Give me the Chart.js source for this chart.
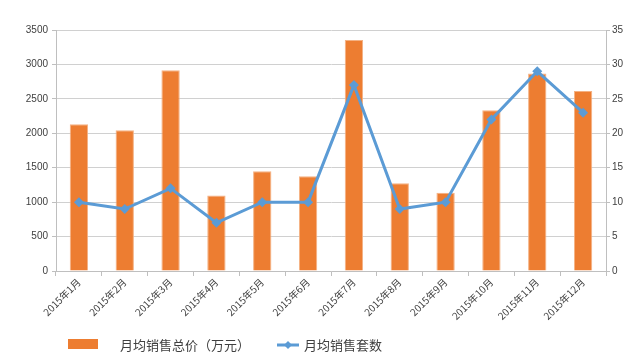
<!DOCTYPE html>
<html><head><meta charset="utf-8">
<script src="https://cdn.jsdelivr.net/npm/chart.js@4/dist/chart.umd.min.js"></script>
<style>html,body{margin:0;padding:0;background:#fff}#w{width:630px;height:357px;position:relative}</style>
</head><body><div id="w"><canvas id="c"></canvas></div>
<script>
const categories = ["2015年1月","2015年2月","2015年3月","2015年4月","2015年5月","2015年6月","2015年7月","2015年8月","2015年9月","2015年10月","2015年11月","2015年12月"];
const totalPrice = [2130, 2045, 2915, 1095, 1450, 1375, 3355, 1275, 1135, 2335, 2870, 2615];
const unitCount = [10, 9, 12, 7, 10, 10, 27, 9, 10, 22, 29, 23];
const barLabel = "月均销售总价（万元）";
const lineLabel = "月均销售套数";
const leftTicks = [0,500,1000,1500,2000,2500,3000,3500];
const rightTicks = [0,5,10,15,20,25,30,35];

const ORANGE = "#ED7D31", BLUE = "#5B9BD5";
const FONT = "'Liberation Sans', 'Noto Sans CJK SC', sans-serif";
const CJK = "'Noto Sans CJK SC', sans-serif";

const legendPlugin = {
  id: 'customLegend',
  afterDraw(chart) {
    const ctx = chart.ctx;
    ctx.save();
    ctx.fillStyle = ORANGE;
    ctx.fillRect(68, 339, 30, 10);
    ctx.fillStyle = "#404040";
    ctx.font = "13px " + CJK;
    ctx.textBaseline = "middle";
    ctx.fillText(barLabel, 120, 345);
    ctx.strokeStyle = BLUE; ctx.lineWidth = 3;
    ctx.beginPath(); ctx.moveTo(277, 345); ctx.lineTo(299, 345); ctx.stroke();
    ctx.fillStyle = BLUE;
    ctx.beginPath(); ctx.moveTo(288, 341); ctx.lineTo(292, 345); ctx.lineTo(288, 349); ctx.lineTo(284, 345); ctx.closePath(); ctx.fill();
    ctx.fillStyle = "#404040";
    ctx.fillText(lineLabel, 304, 345);
    ctx.restore();
  }
};

new Chart(document.getElementById('c'), {
  data: {
    labels: categories,
    datasets: [
      { type: 'line', label: lineLabel, data: unitCount, yAxisID: 'y1', order: 0,
        borderColor: BLUE, backgroundColor: BLUE, borderWidth: 3, pointStyle: 'rectRot',
        pointRadius: 5, pointBorderWidth: 0, tension: 0 },
      { type: 'bar', label: barLabel, data: totalPrice, yAxisID: 'y', order: 1,
        backgroundColor: ORANGE, borderColor: "#F4B183", borderWidth: {top:1,left:1,right:1,bottom:0},
        categoryPercentage: 1.0, barPercentage: 0.4 }
    ]
  },
  options: {
    responsive: true, maintainAspectRatio: false, animation: false,
    devicePixelRatio: 1,
    layout: { padding: { top: 30, left: 0, right: 0, bottom: 0 } },
    plugins: { legend: { display: false }, tooltip: { enabled: false } },
    scales: {
      x: {
        offset: true,
        grid: { display: true, drawOnChartArea: false, tickLength: 5, color: "#bfbfbf", offset: true },
        border: { color: "#bfbfbf" },
        ticks: { minRotation: 45, maxRotation: 45, color: "#404040", font: { family: CJK, size: 10 }, padding: 0 },
        afterFit(s) { s.height = 86; }
      },
      y: {
        position: 'left', min: 0, max: 3500,
        afterBuildTicks(s) { s.ticks = leftTicks.map(v => ({ value: v })); },
        grid: { color: "#d0d0d0", tickLength: 4, tickColor: "#bfbfbf" },
        border: { color: "#bfbfbf" },
        ticks: { color: "#404040", font: { family: FONT, size: 10 }, padding: 4, callback: v => String(v) },
        afterFit(s) { s.width = 56; }
      },
      y1: {
        position: 'right', min: 0, max: 35,
        afterBuildTicks(s) { s.ticks = rightTicks.map(v => ({ value: v })); },
        grid: { drawOnChartArea: false, tickLength: 4, color: "#bfbfbf" },
        border: { color: "#bfbfbf" },
        ticks: { color: "#404040", font: { family: FONT, size: 10 }, padding: 2, callback: v => String(v) },
        afterFit(s) { s.width = 24; }
      }
    }
  },
  plugins: [legendPlugin]
});
</script></body></html>
